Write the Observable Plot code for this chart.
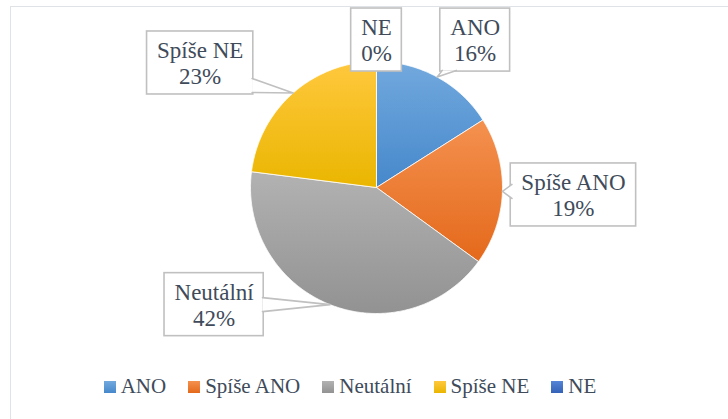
<!DOCTYPE html>
<html>
<head>
<meta charset="utf-8">
<script src="https://cdn.jsdelivr.net/npm/d3@7"></script>
<script src="https://cdn.jsdelivr.net/npm/@observablehq/plot@0.6"></script>
<style>
  html, body { margin: 0; padding: 0; background: #fff; }
  #chart { position: relative; width: 728px; height: 419px; overflow: hidden; background: #fff; font-family: "Liberation Serif", "Times New Roman", serif; }
  #frame { position: absolute; left: 10px; top: 6px; width: 760px; height: 460px; border: 1.5px solid #dfe2e7; box-sizing: border-box; }
  #plot { position: absolute; left: 0; top: 0; }
  #legend { position: absolute; left: 0; top: 374px; width: 700px; display: flex; justify-content: center; gap: 22px;
            font-family: "Liberation Serif", "Times New Roman", serif; font-size: 21px; line-height: 24px; color: #404b5a; white-space: nowrap; }
  #legend .sw { display: inline-block; width: 12px; height: 12px; margin-right: 5px; vertical-align: baseline; }
</style>
</head>
<body>
<div id="chart"><div id="frame"></div><div id="plot"></div><div id="legend"></div></div>
<script>
// ---- data ----
const categories = ["ANO", "Spíše ANO", "Neutální", "Spíše NE", "NE"];
const percents = [16, 19, 42, 23, 0];

// ---- styles ----
const gradTop = ["#72a9de", "#f4914f", "#b2b2b2", "#ffc83e", "#5585d6"];
const gradBottom = ["#4688cb", "#e4691b", "#929292", "#eab600", "#3462b7"];
const textColor = "#404b5a";
const boxStroke = "#c0c0c0";
const serifStack = "Liberation Serif, Times New Roman, DejaVu Serif, serif";

// ---- layout ----
const W = 728, H = 419;
const cx = 376, cy = 187, r = 126;
const calloutOffsets = [[38, -37], [71, 3.5], [-116, 0], [-93, -30], [0, -21.5]];
const boxH = 63, boxPad = 10, calloutFont = 23, calloutLine = 26;

(function draw() {
  const cnv = document.createElement("canvas");
  const c2d = cnv.getContext("2d");
  const measure = (s, px) => { c2d.font = `${px}px "Liberation Serif"`; return c2d.measureText(s).width; };

  // pie geometry from values
  const arcs = d3.pie().sort(null).value(d => d)(percents);
  const slices = arcs.map((a, i) => {
    if (a.endAngle - a.startAngle <= 0) return null;
    const pts = [[cx, cy]];
    const n = Math.max(2, Math.ceil((a.endAngle - a.startAngle) / 0.01));
    for (let k = 0; k <= n; k++) {
      const t = a.startAngle + (a.endAngle - a.startAngle) * k / n;
      pts.push([cx + r * Math.sin(t), cy - r * Math.cos(t)]);
    }
    pts.push([cx, cy]);
    return {i, pts};
  }).filter(Boolean);

  // callouts
  const callouts = arcs.map((a, i) => {
    const mid = (a.startAngle + a.endAngle) / 2;
    const ax = cx + r * Math.sin(mid), ay = cy - r * Math.cos(mid);
    const bx = ax + calloutOffsets[i][0], by = ay + calloutOffsets[i][1];
    const line2 = `${percents[i]}%`;
    const w = Math.max(measure(categories[i], calloutFont), measure(line2, calloutFont)) + 2 * boxPad;
    const x1 = bx - w / 2, x2 = bx + w / 2, y1 = by - boxH / 2, y2 = by + boxH / 2;
    let wedge = null;
    const inside = ax >= x1 && ax <= x2 && ay >= y1 && ay <= y2;
    if (!inside) {
      const ox = ax < x1 ? x1 - ax : ax > x2 ? ax - x2 : 0;
      const oy = ay < y1 ? y1 - ay : ay > y2 ? ay - y2 : 0;
      const hw = 7;
      if (ox >= oy) {
        const ex = ax < x1 ? x1 + 1.2 : x2 - 1.2;
        const c = Math.min(Math.max(ay, y1 + hw + 2), y2 - hw - 2);
        wedge = [[ex, c - hw], [ax, ay], [ex, c + hw]];
      } else {
        const ey = ay < y1 ? y1 + 1.2 : y2 - 1.2;
        const c = Math.min(Math.max(ax, x1 + hw + 2), x2 - hw - 2);
        wedge = [[c - hw, ey], [ax, ay], [c + hw, ey]];
      }
    }
    return {i, bx, by, x1, x2, y1, y2, wedge, label: `${categories[i]}\n${line2}`};
  });

  const markList = [];
  for (const s of slices) {
    markList.push(Plot.line(s.pts, {x: d => d[0], y: d => d[1], fill: `url(#g${s.i})`, stroke: "#ffffff", strokeWidth: 0.8}));
  }
  markList.push(Plot.rect(callouts, {x1: "x1", x2: "x2", y1: "y1", y2: "y2", fill: "#ffffff", stroke: boxStroke, strokeWidth: 1.6}));
  for (const c of callouts) {
    if (c.wedge) markList.push(Plot.line(c.wedge, {x: d => d[0], y: d => d[1], fill: "#ffffff", stroke: boxStroke, strokeWidth: 1.6}));
  }
  markList.push(Plot.text(callouts, {x: "bx", y: "by", text: "label", fontSize: calloutFont, lineHeight: calloutLine / calloutFont,
    fontFamily: "Liberation Serif", fill: textColor, textAnchor: "middle"}));

  const chartSvg = Plot.plot({
    width: W, height: H,
    margin: 0,
    x: {domain: [0, W], range: [0, W], axis: null},
    y: {domain: [0, H], range: [0, H], axis: null},
    marks: markList
  });
  chartSvg.style.background = "transparent";
  d3.select(chartSvg).selectAll("text, tspan").style("font-family", serifStack);

  const gdefs = d3.select(chartSvg).append("defs");
  categories.forEach((c, i) => {
    const g = gdefs.append("linearGradient").attr("id", `g${i}`).attr("x1", 0).attr("y1", 0).attr("x2", 0).attr("y2", 1);
    g.append("stop").attr("offset", "0%").attr("stop-color", gradTop[i]);
    g.append("stop").attr("offset", "100%").attr("stop-color", gradBottom[i]);
  });
  document.getElementById("plot").appendChild(chartSvg);

  // legend (HTML, below the pie)
  const leg = d3.select("#legend");
  categories.forEach((c, i) => {
    const item = leg.append("span").attr("class", "item");
    item.append("span").attr("class", "sw").style("background", `linear-gradient(${gradTop[i]}, ${gradBottom[i]})`);
    item.append("span").text(c);
  });
})();
</script>
</body>
</html>
